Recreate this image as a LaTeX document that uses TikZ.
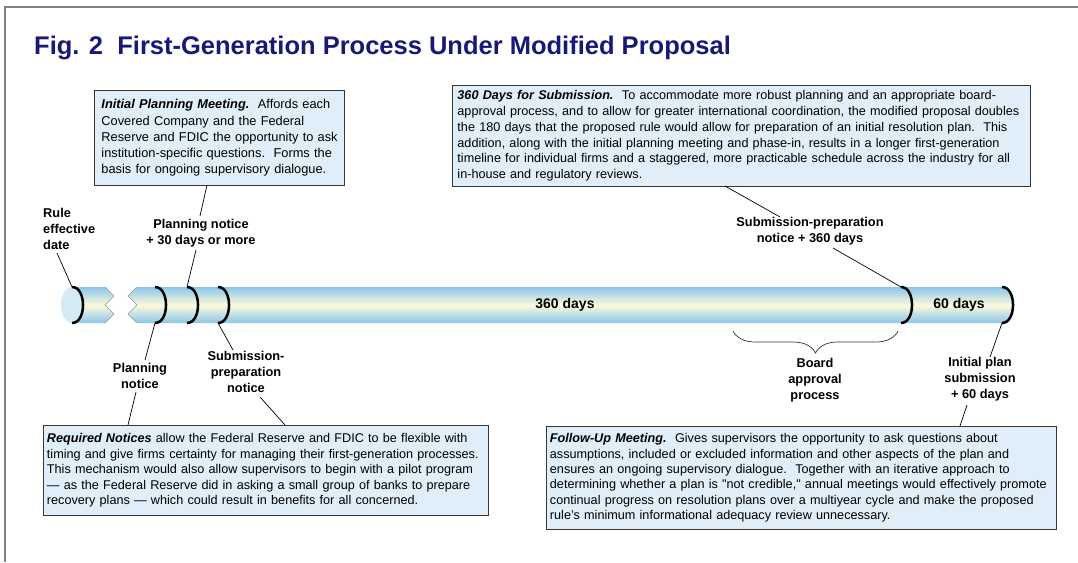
\documentclass[tikz,border=0pt]{standalone}
\usepackage{fontspec}
\setmainfont{Liberation Sans}[Ligatures=TeXOff]
\usetikzlibrary{decorations.pathreplacing}
\definecolor{titleblue}{RGB}{24,24,120}
\definecolor{boxfill}{RGB}{224,238,250}
\definecolor{boxline}{RGB}{55,55,55}
\definecolor{tubeblue}{RGB}{138,198,236}
\definecolor{tubecream}{RGB}{253,250,218}
\definecolor{capfill}{RGB}{214,234,246}
\definecolor{framegray}{RGB}{128,128,128}
\definecolor{zigline}{RGB}{150,150,150}
\newcommand\bl[1]{\mbox{#1}}
\begin{document}
\begin{tikzpicture}[x=1pt,y=-1pt,
  infobox/.style={draw=boxline, line width=0.9pt, fill=boxfill, anchor=north west,
    inner ysep=0pt, align=left},
  lbl/.style={align=center, font=\bfseries\fontsize{12.8}{16}\selectfont, inner sep=0pt},
  daylbl/.style={font=\bfseries\fontsize{14}{16}\selectfont, inner sep=0pt},
  ring/.style={line width=2.5pt, black},
  conn/.style={line width=0.7pt, black},
  braceline/.style={line width=0.7pt, black!80}]
\useasboundingbox (0,0) rectangle (1078,562);
% frame
\draw[framegray, line width=1.5pt] (4,7) -- (1078,7);
\draw[framegray, line width=1.5pt] (5,7) -- (5,562);
% title
\node[anchor=west, inner sep=0pt, text=titleblue, font=\bfseries\fontsize{25.5}{28}\selectfont] (title) at (34,48)
  {Fig. 2\ \ First-Generation Process Under Modified Proposal};

% tube
\shade[top color=tubeblue, bottom color=tubeblue, middle color=tubecream]
  (72,287) -- (105,287) -- (114,296) -- (105,305) -- (114,314) -- (105,323) -- (72,323) -- cycle;
\draw[zigline, line width=0.6pt] (105,287) -- (114,296) -- (105,305) -- (114,314) -- (105,323);
\shade[top color=tubeblue, bottom color=tubeblue, middle color=tubecream]
  (137,287) -- (1002,287) .. controls (1016.7,287) and (1016.7,323) .. (1002,323)
  -- (137,323) -- (128,314) -- (137,305) -- (128,296) -- cycle;
\draw[zigline, line width=0.6pt] (137,287) -- (128,296) -- (137,305) -- (128,314) -- (137,323);
\fill[capfill] (72,305) ellipse [x radius=11, y radius=18];
\foreach \x/\n in {72/1,155/2,187/3,218/4,901/5,1002/6}{
  \coordinate (r\n t) at (\x,287);
  \coordinate (r\n b) at (\x,323);
  \draw[ring] (r\n t) .. controls +(14.7,0) and +(14.7,0) .. (r\n b);
}
\node[daylbl] (l360) at (565,305) {360 days};
\node[daylbl] (l60) at (959,305) {60 days};

% boxes
\node[infobox, inner xsep=7pt, minimum width=250pt, minimum height=95pt, text width=236pt,
  font=\fontsize{12.8}{16.2}\selectfont] (ipm) at (94,90)
  {\bl{\textbf{\textit{Initial Planning Meeting.}}\ \ Affords each}\\
   \bl{Covered Company and the Federal}\\
   \bl{Reserve and FDIC the opportunity to ask}\\
   \bl{institution-specific questions.\ \ Forms the}\\
   \bl{basis for ongoing supervisory dialogue.}};
\node[infobox, inner xsep=5pt, minimum width=578pt, minimum height=101pt, text width=568pt,
  font=\fontsize{12.65}{15.8}\selectfont] (sub) at (452,85)
  {\bl{\textbf{\textit{360 Days for Submission.}}\ \ To accommodate more robust planning and an appropriate board-}\\
   \bl{approval process, and to allow for greater international coordination, the modified proposal doubles}\\
   \bl{the 180 days that the proposed rule would allow for preparation of an initial resolution plan.\ \ This}\\
   \bl{addition, along with the initial planning meeting and phase-in, results in a longer first-generation}\\
   \bl{timeline for individual firms and a staggered, more practicable schedule across the industry for all}\\
   \bl{in-house and regulatory reviews.}};
\node[infobox, inner xsep=3.5pt, minimum width=445pt, minimum height=90pt, text width=438pt,
  font=\fontsize{12.65}{15.5}\selectfont] (req) at (43,425)
  {\bl{\textbf{\textit{Required Notices}} allow the Federal Reserve and FDIC to be flexible with}\\
   \bl{timing and give firms certainty for managing their first-generation processes.}\\
   \bl{This mechanism would also allow supervisors to begin with a pilot program}\\
   \bl{— as the Federal Reserve did in asking a small group of banks to prepare}\\
   \bl{recovery plans — which could result in benefits for all concerned.}};
\node[infobox, inner xsep=3.5pt, minimum width=510pt, minimum height=103pt, text width=503pt,
  font=\fontsize{12.65}{15.4}\selectfont] (fum) at (546,426)
  {\bl{\textbf{\textit{Follow-Up Meeting.}}\ \ Gives supervisors the opportunity to ask questions about}\\
   \bl{assumptions, included or excluded information and other aspects of the plan and}\\
   \bl{ensures an ongoing supervisory dialogue.\ \ Together with an iterative approach to}\\
   \bl{determining whether a plan is "not credible," annual meetings would effectively promote}\\
   \bl{continual progress on resolution plans over a multiyear cycle and make the proposed}\\
   \bl{rule’s minimum informational adequacy review unnecessary.}};

% labels
\node[lbl, align=left, anchor=west] (lrule) at (43,229) {Rule\\effective\\date};
\node[lbl] (lplan30) at (201,233.5) {Planning notice\\+ 30 days or more};
\node[lbl] (lplan) at (140,375.5) {Planning\\notice};
\node[lbl] (lsubprep) at (246,371.5) {Submission-\\preparation\\notice};
\node[lbl] (lsub360) at (810,231.5) {Submission-preparation\\notice + 360 days};
\node[lbl] (lboard) at (815,380.5) {Board\\approval\\process};
\node[lbl] (linit) at (980,379) {Initial plan\\submission\\+ 60 days};

% connector end points
\coordinate (a1) at (57,253);
\coordinate (ipmb) at (207,185);
\coordinate (a2) at (200,216);
\coordinate (a3) at (196,250);
\coordinate (a4) at (145,360);
\coordinate (a5) at (136,392);
\coordinate (reqa) at (128,425);
\coordinate (a6) at (233,350);
\coordinate (a7) at (260,397);
\coordinate (reqb) at (285,425);
\coordinate (subb) at (725,186);
\coordinate (a8) at (780,217);
\coordinate (a9) at (833,248);
\coordinate (a10) at (990,357);
\coordinate (a11) at (967,405);
\coordinate (fumt) at (960,426);
\coordinate (brR) at (898,331);
\coordinate (brL) at (733,331);

\draw[conn] (a1) -- (r1t);
\draw[conn] (ipmb) -- (a2);
\draw[conn] (a3) -- (r3t);
\draw[conn] (r2b) -- (a4);
\draw[conn] (a5) -- (reqa);
\draw[conn] (r4b) -- (a6);
\draw[conn] (a7) -- (reqb);
\draw[conn] (subb) -- (a8);
\draw[conn] (a9) -- (r5t);
\draw[conn] (r6b) -- (a10);
\draw[conn] (a11) -- (fumt);
\draw[braceline, decorate, decoration={brace, amplitude=22pt}] (brR) -- (brL);
\end{tikzpicture}
\end{document}
